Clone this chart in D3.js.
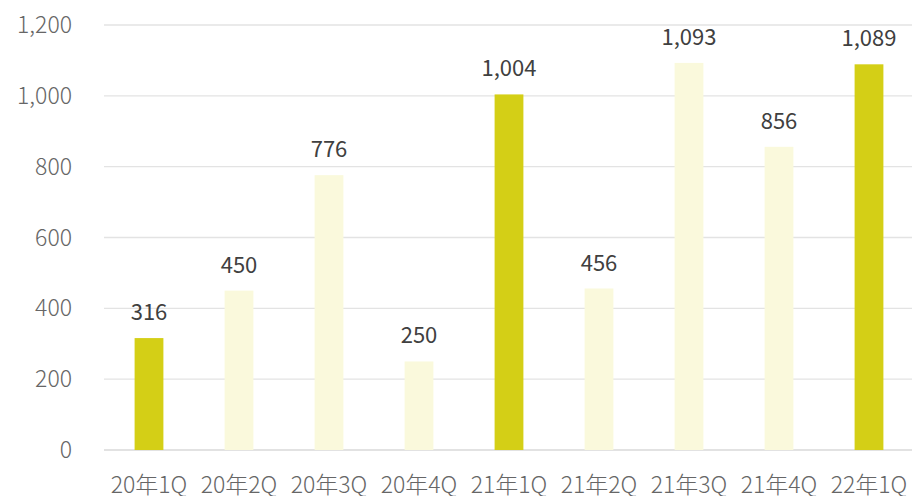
<!DOCTYPE html>
<html>
<head>
<meta charset="utf-8">
<script src="https://cdn.jsdelivr.net/npm/d3@7"></script>
<style>
  body { margin: 0; background: #fff; }
  svg { display: block; font-family: "Noto Sans CJK JP", "Noto Sans", sans-serif; }
</style>
</head>
<body>
<div id="svg-container"></div>
<script>
// data
const categories = ["20年1Q", "20年2Q", "20年3Q", "20年4Q", "21年1Q", "21年2Q", "21年3Q", "21年4Q", "22年1Q"]
const values = [316, 450, 776, 250, 1004, 456, 1093, 856, 1089]
const yTicks = [0, 200, 400, 600, 800, 1000, 1200]

const width = 912
const height = 496
const margin = { top: 25, right: -2, bottom: 46, left: 104 }
const innerWidth = width - margin.left - margin.right
const innerHeight = height - margin.top - margin.bottom

const svg = d3.select('#svg-container')
    .append('svg').attr('width', width).attr('height', height)

const g = svg.append('g')
    .attr('transform', `translate(${margin.left}, ${margin.top})`)

// schalen
const xScale = d3.scaleBand()
    .domain(categories)
    .range([0, innerWidth])
    .paddingInner(0.68)
    .paddingOuter(0.34)
const yScale = d3.scaleLinear()
    .domain([0, 1200])
    .range([innerHeight, 0])

// gridlijnen
g.selectAll('.grid').data(yTicks)
    .enter().append('line')
    .attr('x1', 0).attr('x2', innerWidth)
    .attr('y1', d => yScale(d)).attr('y2', d => yScale(d))
    .attr('stroke', d => d === 0 ? '#d9d9d9' : '#e3e3e3')
    .attr('stroke-width', d => d === 0 ? 1.5 : 1.3)

// y-as labels
g.append('g').selectAll('text').data(yTicks)
    .enter().append('text')
    .attr('x', -32)
    .attr('y', d => yScale(d))
    .attr('dy', '0.35em')
    .attr('text-anchor', 'end')
    .attr('fill', '#666')
    .style('font-size', '23px')
    .style('font-weight', 300)
    .text(d => d3.format(',')(d))

// x-as labels
g.append('g').selectAll('text').data(categories)
    .enter().append('text')
    .attr('x', d => xScale(d) + xScale.bandwidth() / 2)
    .attr('y', innerHeight + 43)
    .attr('text-anchor', 'middle')
    .attr('fill', '#666')
    .style('font-size', '23px')
    .style('font-weight', 300)
    .text(d => d)

// balken
g.selectAll('rect').data(values)
    .enter().append('rect')
    .attr('x', (d, i) => xScale(categories[i]))
    .attr('y', d => yScale(d))
    .attr('width', xScale.bandwidth())
    .attr('height', d => innerHeight - yScale(d))
    .attr('fill', (d, i) => categories[i].endsWith('1Q') ? '#d4cf16' : '#faf9dc')

// waarde labels
g.append('g').selectAll('text').data(values)
    .enter().append('text')
    .attr('x', (d, i) => xScale(categories[i]) + xScale.bandwidth() / 2)
    .attr('y', d => yScale(d) - 18)
    .attr('text-anchor', 'middle')
    .attr('fill', '#404040')
    .style('font-size', '22px')
    .text(d => d3.format(',')(d))
</script>
</body>
</html>
